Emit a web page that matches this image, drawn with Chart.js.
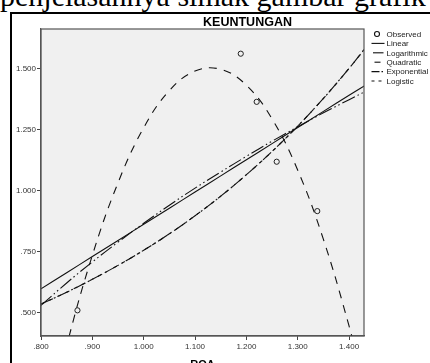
<!DOCTYPE html>
<html>
<head>
<meta charset="utf-8">
<script src="https://cdn.jsdelivr.net/npm/chart.js@4.4.0/dist/chart.umd.min.js"></script>
<style>
    html, body { margin: 0; padding: 0; background: #fff; overflow: hidden; }
    #wrap { position: relative; width: 430px; height: 363px; overflow: hidden; }
    #caption { position: absolute; left: 0; top: -19px; font-family: "Liberation Serif", "Times New Roman", serif;
               font-size: 30px; line-height: 30px; white-space: nowrap; color: #000; }
    #frame { position: absolute; left: 10px; top: 11.5px; width: 600px; height: 600px;
             border-left: 2.5px solid #000; border-top: 2px solid #000; }
    #chart { position: absolute; left: 0; top: 0; }
</style>
</head>
<body>
<div id="wrap">
    <div id="caption">penjelasannya simak gambar grafik</div>
    <div id="frame"></div>
    <canvas id="chart" width="430" height="385"></canvas>
</div>
<script>
// observed points (ROA, KEUNTUNGAN)
var observedX = [0.871, 1.189, 1.220, 1.259, 1.338];
var observedY = [0.510, 1.560, 1.363, 1.118, 0.916];

// fitted curves at these ROA values
var curveX       = [0.80, 0.85, 0.90, 0.95, 1.00, 1.05, 1.10, 1.15, 1.20, 1.25, 1.30, 1.35, 1.40, 1.43];
var linearY      = [0.598, 0.664, 0.730, 0.796, 0.862, 0.928, 0.994, 1.060, 1.126, 1.192, 1.258, 1.324, 1.390, 1.429];
var logarithmicY = [0.530, 0.622, 0.708, 0.789, 0.866, 0.940, 1.010, 1.076, 1.140, 1.202, 1.261, 1.318, 1.372, 1.404];
var quadraticY   = [-0.077, 0.365, 0.735, 1.032, 1.257, 1.409, 1.489, 1.496, 1.431, 1.293, 1.083, 0.800, 0.445, 0.197];
var exponentialY = [0.536, 0.584, 0.637, 0.694, 0.756, 0.823, 0.897, 0.977, 1.065, 1.160, 1.264, 1.377, 1.500, 1.579];
var logisticY    = [0.536, 0.584, 0.637, 0.694, 0.756, 0.823, 0.897, 0.977, 1.065, 1.160, 1.264, 1.377, 1.500, 1.579];

var xTicks = [0.8, 0.9, 1.0, 1.1, 1.2, 1.3, 1.4];
var xTickLabels = ['.800', '.900', '1.000', '1.100', '1.200', '1.300', '1.400'];
var yTicks = [0.5, 0.75, 1.0, 1.25, 1.5];
var yTickLabels = ['.500', '.750', '1.000', '1.250', '1.500'];

var chartTitle = 'KEUNTUNGAN';
var xTitle = 'ROA';

function pairs(xs, ys) {
    return xs.map(function (x, i) { return { x: x, y: ys[i] }; });
}

Chart.defaults.font.family = "'Liberation Sans', Arial, sans-serif";
Chart.defaults.color = '#333';

var ink = '#111';

function curve(label, ys, dash) {
    return {
        label: label,
        data: pairs(curveX, ys),
        showLine: true,
        borderColor: ink,
        borderWidth: 1.1,
        borderDash: dash,
        pointRadius: 0,
        tension: 0.4,
        fill: false
    };
}

// SPSS-like decorations: grey plot area, frame, title and legend
var spssDecor = {
    id: 'spssDecor',
    beforeDraw: function (chart) {
        var a = chart.chartArea, ctx = chart.ctx;
        ctx.save();
        ctx.fillStyle = '#f0f0f0';
        ctx.fillRect(a.left, a.top, a.right - a.left, a.bottom - a.top);
        ctx.restore();
    },
    afterDatasetsDraw: function (chart) {
        var a = chart.chartArea, ctx = chart.ctx;
        ctx.save();
        ctx.strokeStyle = '#555';
        ctx.lineWidth = 1.2;
        ctx.strokeRect(a.left, a.top, a.right - a.left, a.bottom - a.top);
        ctx.restore();
    },
    afterDraw: function (chart) {
        var ctx = chart.ctx;
        ctx.save();
        ctx.fillStyle = '#000';
        ctx.font = "bold 12.5px 'Liberation Sans', Arial, sans-serif";
        ctx.textAlign = 'center';
        ctx.textBaseline = 'alphabetic';
        ctx.fillText(chartTitle, 247.5, 26);

        // legend
        var rows = [34, 43.4, 52.8, 62.2, 71.6, 81];
        var legendDash = [null, [], [], [], [8, 2, 1.5, 2], [3, 4]];
        var samples = [null, [371.5, 384.5], [373, 383.5], [374.5, 380.5], [371.5, 384], [371.5, 384]];
        ctx.font = "8px 'Liberation Sans', Arial, sans-serif";
        ctx.textAlign = 'left';
        ctx.textBaseline = 'middle';
        ctx.strokeStyle = ink;
        ctx.lineWidth = 1.1;
        chart.data.datasets.forEach(function (ds, i) {
            var y = rows[i];
            if (i === 0) {
                ctx.beginPath();
                ctx.arc(377, y, 2.5, 0, Math.PI * 2);
                ctx.stroke();
            } else {
                ctx.setLineDash(legendDash[i]);
                ctx.beginPath();
                ctx.moveTo(samples[i][0], y);
                ctx.lineTo(samples[i][1], y);
                ctx.stroke();
                ctx.setLineDash([]);
            }
            ctx.fillStyle = '#222';
            ctx.fillText(ds.label, 386.5, y + 0.5);
        });
        ctx.restore();
    }
};

var ctx = document.getElementById('chart');
var chart = new Chart(ctx, {
    type: 'scatter',
    data: {
        datasets: [
            {
                label: 'Observed',
                data: pairs(observedX, observedY),
                pointStyle: 'circle',
                pointRadius: 2.6,
                pointBorderWidth: 1,
                pointBorderColor: '#222',
                pointBackgroundColor: 'rgba(0,0,0,0)'
            },
            curve('Linear', linearY, []),
            curve('Logarithmic', logarithmicY, [14, 3, 1.5, 3, 1.5, 3]),
            curve('Quadratic', quadraticY, [8, 7]),
            curve('Exponential', exponentialY, [11, 3, 2, 3]),
            curve('Logistic', logisticY, [4, 5])
        ]
    },
    options: {
        responsive: false,
        animation: false,
        events: [],
        layout: { padding: { left: 0, right: 66, top: 29, bottom: 0 } },
        elements: { line: { capBezierPoints: false } },
        plugins: {
            legend: { display: false },
            title: { display: false },
            tooltip: { enabled: false }
        },
        scales: {
            x: {
                type: 'linear',
                min: 0.8,
                max: 1.429,
                afterBuildTicks: function (s) {
                    s.ticks = xTicks.map(function (v) { return { value: v }; });
                },
                afterFit: function (s) { s.height = 49; },
                ticks: {
                    autoSkip: false,
                    maxRotation: 0,
                    padding: 2,
                    font: { size: 8 },
                    callback: function (v, i) { return xTickLabels[i]; }
                },
                grid: { drawOnChartArea: false, drawTicks: true, tickLength: 4, color: '#444' },
                border: { display: true, color: '#555', width: 1.2 },
                title: {
                    display: true,
                    text: xTitle,
                    color: '#000',
                    font: { size: 11, weight: 'bold' },
                    padding: { top: 0, bottom: 13.5 }
                }
            },
            y: {
                type: 'linear',
                min: 0.405,
                max: 1.661,
                afterBuildTicks: function (s) {
                    s.ticks = yTicks.map(function (v) { return { value: v }; });
                },
                afterFit: function (s) { s.width = 41; },
                ticks: {
                    autoSkip: false,
                    padding: 1,
                    font: { size: 8 },
                    callback: function (v, i) { return yTickLabels[i]; }
                },
                grid: { drawOnChartArea: false, drawTicks: true, tickLength: 4, color: '#444' },
                border: { display: true, color: '#555', width: 1.2 }
            }
        }
    },
    plugins: [spssDecor]
});
</script>
</body>
</html>
